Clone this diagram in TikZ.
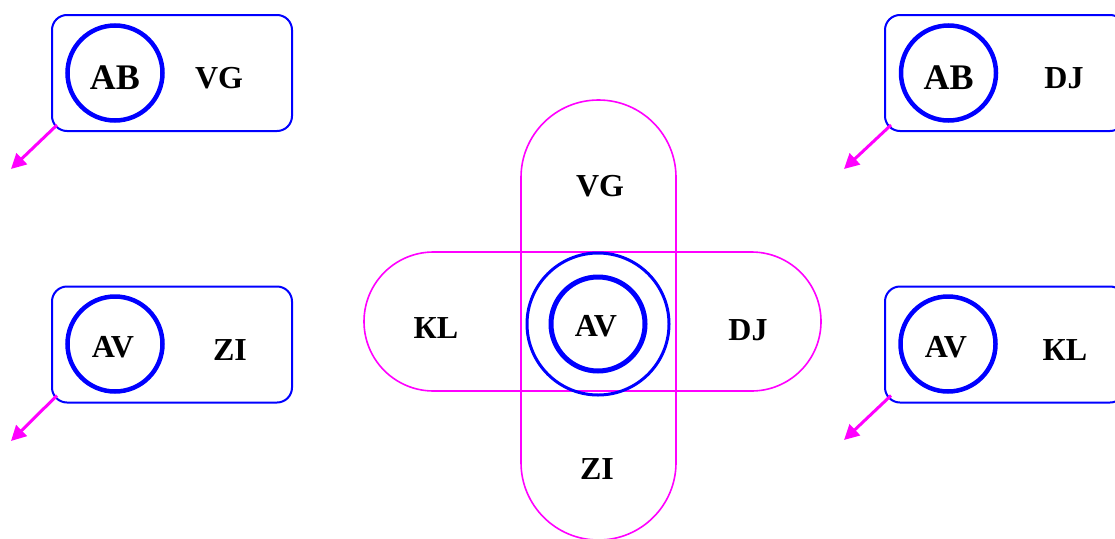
\documentclass[tikz,border=0pt]{standalone}
\usepackage{fontspec}
\setmainfont{Liberation Serif}
\usetikzlibrary{arrows.meta,calc}
\definecolor{bl}{RGB}{0,0,255}
\definecolor{mg}{RGB}{255,0,255}
\tikzset{
  boxst/.style={draw=bl, line width=2pt, rounded corners=15pt, minimum width=240pt, minimum height=116pt, inner sep=0pt},
  ringst/.style={draw=bl, line width=4.5pt, circle, minimum size=95pt, inner sep=0pt},
  bigtxt/.style={font=\bfseries\fontsize{36}{40}\selectfont, inner sep=0pt},
  txt/.style={font=\bfseries\fontsize{32}{36}\selectfont, inner sep=0pt},
  arr/.style={draw=mg, line width=3pt, -{Triangle[length=15pt,width=15pt]}},
  stad/.style={draw=mg, line width=1.6pt, inner sep=0pt}
}
\begin{document}
\begin{tikzpicture}[x=1pt,y=-1pt]
\useasboundingbox (0,0) rectangle (1115,538);
% center stadiums
\node[stad, minimum width=155pt, minimum height=440pt, rounded corners=77.5pt] (vert) at (598.5,320) {};
\node[stad, minimum width=457pt, minimum height=139pt, rounded corners=69.5pt] (horiz) at (592.5,321.5) {};
\node[draw=bl, line width=3pt, circle, minimum size=142pt, inner sep=0pt] (outer) at (598,324) {};
\node[draw=bl, line width=5pt, circle, minimum size=94pt, inner sep=0pt] (inner) at (598,324) {};
\node[txt] (cAV) at (596,326) {AV};
\node[txt] (cVG) at (600,186) {VG};
\node[txt] (cKL) at (436,328) {КL};
\node[txt] (cDJ) at (748,330) {DJ};
\node[txt] (cZI) at (597,469) {ZI};
% top-left box
\node[boxst] (b1) at (172,73) {};
\node[ringst] (r1) at (115,73) {};
\node[bigtxt] (t1a) at (115,78) {AB};
\node[txt] (t1b) at (219,78) {VG};
\coordinate (e1) at (11,169);
\draw[arr] ($(b1.south west)+(6,-7)$) -- (e1);
% top-right box
\node[boxst] (b2) at (1005,73) {};
\node[ringst] (r2) at (948.5,73) {};
\node[bigtxt] (t2a) at (948.5,78) {AB};
\node[txt] (t2b) at (1064,78) {DJ};
\coordinate (e2) at (844,169);
\draw[arr] ($(b2.south west)+(7,-7)$) -- (e2);
% bottom-left box
\node[boxst] (b3) at (172,344.5) {};
\node[ringst] (r3) at (115,344) {};
\node[txt] (t3a) at (113,347) {AV};
\node[txt] (t3b) at (230,350) {ZI};
\coordinate (e3) at (11,441);
\draw[arr] ($(b3.south west)+(6,-8)$) -- (e3);
% bottom-right box
\node[boxst] (b4) at (1005,344.5) {};
\node[ringst] (r4) at (948,344) {};
\node[txt] (t4a) at (946,347) {AV};
\node[txt] (t4b) at (1065,350) {КL};
\coordinate (e4) at (844,440);
\draw[arr] ($(b4.south west)+(7,-8)$) -- (e4);
\end{tikzpicture}
\end{document}
